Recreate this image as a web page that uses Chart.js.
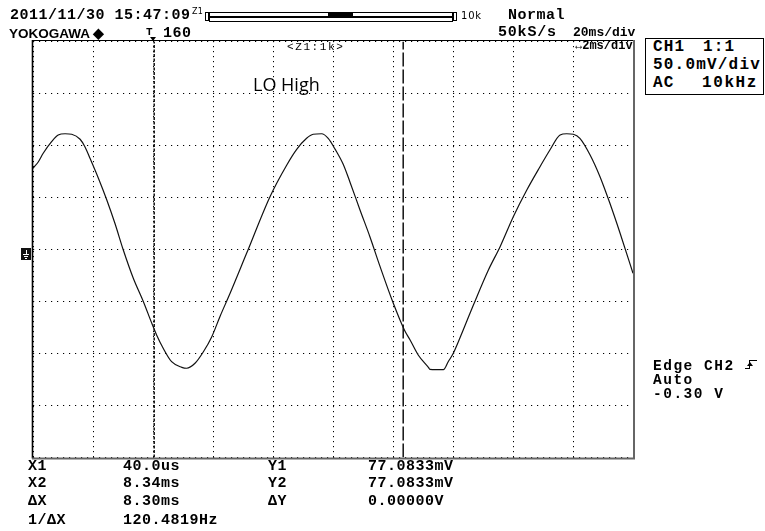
<!DOCTYPE html>
<html>
<head>
<meta charset="utf-8">
<script src="https://cdn.jsdelivr.net/npm/chart.js@4/dist/chart.umd.min.js"></script>
<style>
  html, body { margin: 0; padding: 0; background: #fff; }
  #wrap { position: relative; width: 765px; height: 531px; overflow: hidden; }
  #c { position: absolute; left: 0; top: 0; }
  .t { position: absolute; white-space: pre; line-height: 1; color: #000; }
  .mono { font-family: "Liberation Mono", "DejaVu Sans Mono", monospace; font-weight: bold; }
  .box { position: absolute; box-sizing: border-box; }
</style>
</head>
<body>
<div id="wrap">
  <canvas id="c" width="765" height="531"></canvas>
</div>
<script>
// ---- data (time in ms relative to trigger, voltage in mV) ----
const waveTimeMs = [-4.0, -3.82, -3.66, -3.38, -3.16, -2.93, -2.71, -2.43, -2.27, -2.10,
  -1.82, -1.54, -1.27, -0.99, -0.66, -0.32, -0.04, 0.12, 0.34, 0.62,
  0.96, 1.12, 1.40, 1.68, 1.96, 2.23, 2.57, 3.12, 3.90, 4.46,
  4.79, 5.12, 5.34, 5.62, 5.84, 6.07, 6.34, 6.57, 6.90, 7.23,
  7.57, 8.01, 8.38, 8.57, 8.84, 9.18, 9.23, 9.68, 9.84, 10.01,
  10.34, 10.68, 11.18, 11.57, 12.01, 12.46, 12.90, 13.23, 13.57, 13.79,
  14.01, 14.23, 14.57, 14.90, 15.23, 15.57, 16.0];
const waveMilliVolts = [78.1, 84.4, 92.5, 103.7, 110.1, 111.3, 110.8, 106.0, 98.8, 87.7,
  68.5, 47.6, 25.2, -0.5, -27.4, -50.2, -71.0, -82.2, -95.0, -107.9,
  -113.3, -114.2, -109.4, -98.3, -83.8, -64.6, -42.1, -3.7, 50.8, 81.3,
  96.3, 106.9, 110.8, 111.3, 106.9, 96.5, 82.0, 64.5, 38.0, 12.3,
  -16.5, -51.7, -77.4, -87.0, -101.4, -113.3, -115.2, -115.6, -107.9, -99.8,
  -77.4, -53.4, -19.7, 2.7, 31.5, 57.2, 79.6, 95.7, 110.1, 111.3,
  110.8, 106.9, 90.9, 70.0, 44.4, 15.6, -22.9];
const cursorTimesMs = [0.04, 8.34];
const timeAxisMs = [-4, 16];       // 20 ms/div zoomed to 2 ms/div, 10 divisions
const voltAxisMv = [-200, 200];    // 50 mV/div, 8 divisions
const timeStepMs = 2;
const voltStepMv = 50;

const headerTexts = ["2011/11/30 15:47:09", "Normal", "50kS/s", "20ms/div", "160", "<Z1:1k>", "\u21942ms/div"];
const channelTexts = ["CH1", "1:1", "50.0mV/div", "AC", "10kHz"];
const triggerTexts = ["Edge CH2", "Auto", "-0.30 V"];
const cursorLabels = ["X1", "X2", "\u0394X", "1/\u0394X"];
const cursorXValues = ["40.0us", "8.34ms", "8.30ms", "120.4819Hz"];
const cursorYLabels = ["Y1", "Y2", "\u0394Y"];
const cursorYValues = ["77.0833mV", "77.0833mV", "0.00000V"];
const annotation = "LO High";

// ---- chart ----
const wavePoints = waveTimeMs.map((t, i) => ({ x: t, y: waveMilliVolts[i] }));
const cursorDatasets = cursorTimesMs.map((t, i) => ({
  data: [{ x: t, y: voltAxisMv[0] }, { x: t, y: voltAxisMv[1] }],
  borderColor: '#111',
  borderWidth: 1.5,
  borderDash: i === 0 ? [3, 1.5] : [14, 3],
  pointRadius: 0,
  fill: false,
  order: 2
}));

const framePlugin = {
  id: 'frame',
  afterDraw(chart) {
    const { ctx, chartArea: a } = chart;
    ctx.save();
    ctx.setLineDash([]);
    ctx.strokeStyle = '#000';
    ctx.lineWidth = 1.6;
    ctx.beginPath(); ctx.moveTo(a.left - 0.5, a.top - 1.5); ctx.lineTo(a.left - 0.5, a.bottom + 1); ctx.stroke();
    ctx.lineWidth = 1;
    ctx.beginPath(); ctx.moveTo(a.left - 1, a.top - 1); ctx.lineTo(a.right, a.top - 1); ctx.stroke();
    ctx.strokeStyle = '#666';
    ctx.lineWidth = 2;
    ctx.beginPath(); ctx.moveTo(a.right + 1, a.top - 1.5); ctx.lineTo(a.right + 1, a.bottom + 1.5); ctx.stroke();
    ctx.beginPath(); ctx.moveTo(a.left - 1, a.bottom + 1); ctx.lineTo(a.right + 2, a.bottom + 1); ctx.stroke();
    ctx.restore();
  }
};

new Chart(document.getElementById('c'), {
  type: 'line',
  data: {
    datasets: [{
      data: wavePoints,
      borderColor: '#111',
      borderWidth: 1.2,
      pointRadius: 0,
      cubicInterpolationMode: 'monotone',
      fill: false,
      order: 1
    }, ...cursorDatasets]
  },
  options: {
    responsive: false,
    animation: false,
    devicePixelRatio: 1,
    layout: { padding: { left: 33, right: 132, top: 41.5, bottom: 73.5 } },
    plugins: { legend: { display: false }, tooltip: { enabled: false }, title: { display: false } },
    scales: {
      x: {
        type: 'linear', min: timeAxisMs[0], max: timeAxisMs[1],
        ticks: { display: false, stepSize: timeStepMs },
        grid: { color: '#000', lineWidth: 1, drawTicks: false },
        border: { display: false, dash: [1.2, 3.8], dashOffset: 0.5 }
      },
      y: {
        type: 'linear', min: voltAxisMv[0], max: voltAxisMv[1],
        ticks: { display: false, stepSize: voltStepMv },
        grid: { color: '#000', lineWidth: 1, drawTicks: false },
        border: { display: false, dash: [1.2, 4.8] }
      }
    }
  },
  plugins: [framePlugin]
});

// ---- text & decorations ----
const wrap = document.getElementById('wrap');
function txt(s, left, cy, size, ls, cls, k, extra) {
  const d = document.createElement('div');
  d.className = 't ' + (cls || 'mono');
  d.textContent = s;
  d.style.left = left + 'px';
  d.style.top = (cy - (k || 0.437) * size) + 'px';
  d.style.fontSize = size + 'px';
  d.style.letterSpacing = (ls || 0) + 'px';
  if (extra) Object.assign(d.style, extra);
  wrap.appendChild(d);
  return d;
}
function box(left, top, w, h, style) {
  const d = document.createElement('div');
  d.className = 'box';
  Object.assign(d.style, { left: left + 'px', top: top + 'px', width: w + 'px', height: h + 'px' }, style || {});
  wrap.appendChild(d);
  return d;
}

// header
txt(headerTexts[0], 10, 14.5, 15, 0.5);
txt("Z1", 192, 12, 8, 0.3, '', 0.5, { fontFamily: 'DejaVu Sans', fontWeight: 'normal' });
box(205, 12, 4, 9, { border: '1px solid #000' });
box(209, 12, 244, 5, { border: '1px solid #000' });
box(209, 17, 244, 4.5, { border: '1px solid #000' });
box(328, 12, 25, 4, { background: '#000' });
box(453, 12, 4, 9, { border: '1px solid #000' });
txt("10k", 461, 15.5, 10, 0.8, '', 0.5, { fontFamily: 'DejaVu Sans', fontWeight: 'normal' });
txt(headerTexts[1], 508, 15, 15, 0.5);
txt("YOKOGAWA \u25C6", 9, 33.5, 13.5, 0, '', 0.488, { fontFamily: '"Liberation Sans", Arial, sans-serif', fontWeight: 'bold' });
txt("T", 146, 31.5, 11, 0, '', 0.437);
box(150, 36.5, 0, 0, { borderLeft: '3px solid transparent', borderRight: '3px solid transparent', borderTop: '4px solid #000' });
txt(headerTexts[4], 163, 33, 15, 0.5);
txt(headerTexts[2], 498, 31.5, 15, 0.8);
txt(headerTexts[3], 573, 31.5, 13, 0);
txt(headerTexts[5], 287, 46.5, 11, 1.6, '', 0.437, { fontWeight: 'normal' });
txt(headerTexts[6], 575, 45, 12, 0);

// annotation
txt(annotation, 253, 84.5, 18, 0, '', 0.531, { fontFamily: '"Open Sans", sans-serif', fontWeight: 'normal' });

// channel box
box(645, 38, 119, 57, { border: '1px solid #000', background: '#fff' });
txt(channelTexts[0], 653, 45.7, 16, 1.1);
txt(channelTexts[1], 703, 45.7, 16, 1.1);
txt(channelTexts[2], 653, 63.5, 16, 1.2);
txt(channelTexts[3], 653, 82, 16, 1.1);
txt(channelTexts[4], 702, 82, 16, 1.6);

// trigger info
txt(triggerTexts[0], 653, 365, 14.5, 1.5);
txt(triggerTexts[1], 653, 379.5, 14.5, 1.5);
txt(triggerTexts[2], 653, 393.3, 14.5, 1.5);
box(745, 360, 5, 9, { borderBottom: '1.5px solid #000', borderRight: '1.5px solid #000' });
box(749, 360, 8, 1, { borderTop: '1.5px solid #000' });
box(746.5, 362, 0, 0, { borderLeft: '3px solid transparent', borderRight: '3px solid transparent', borderBottom: '4px solid #000' });

// ground marker
box(21, 248, 10, 12, { background: '#111' });
box(25.5, 250, 1, 4, { background: '#fff' });
box(23, 254, 6, 1, { background: '#fff' });
box(24, 256, 4, 1, { background: '#fff' });
box(25, 258, 2, 1, { background: '#fff' });

// cursor readouts
const rowsY = [465.5, 483, 501, 519.5];
cursorLabels.forEach((s, i) => txt(s, 28, rowsY[i], 15, 0.5));
cursorXValues.forEach((s, i) => txt(s, 123, rowsY[i], 15, 0.5));
cursorYLabels.forEach((s, i) => txt(s, 268, rowsY[i], 15, 0.5));
cursorYValues.forEach((s, i) => txt(s, 368, rowsY[i], 15, 0.5));
</script>
</body>
</html>
